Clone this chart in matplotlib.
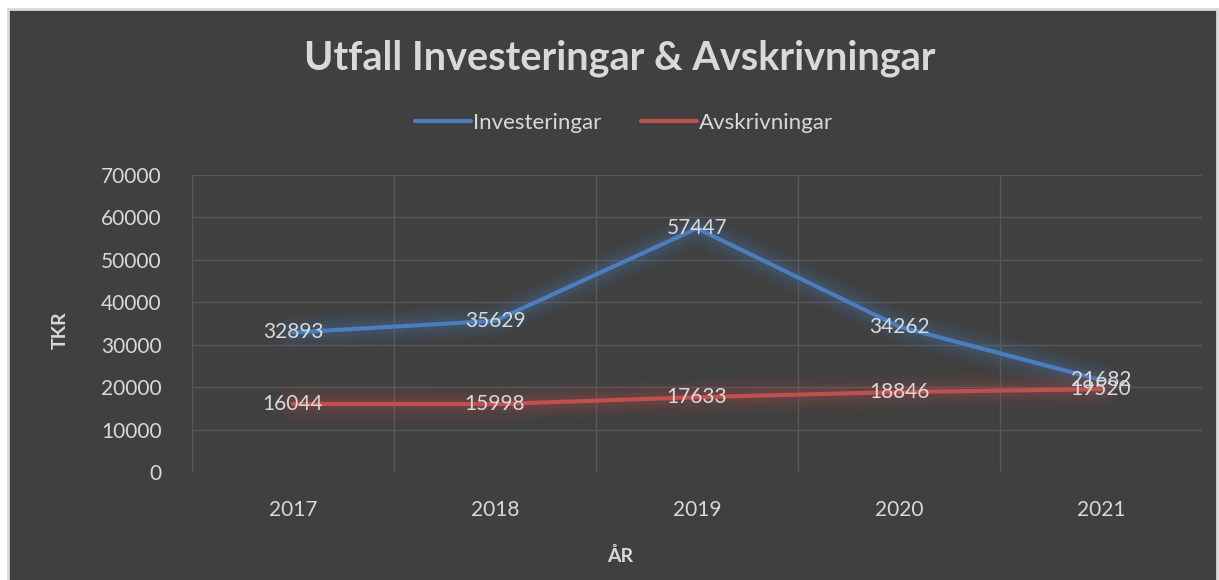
import matplotlib.pyplot as plt
import matplotlib.patheffects as pe
from matplotlib.patches import Rectangle

plt.rcParams['font.family'] = ['Lato', 'DejaVu Sans']

# Data
years = ['2017', '2018', '2019', '2020', '2021']
investeringar = [32893, 35629, 57447, 34262, 21682]
avskrivningar = [16044, 15998, 17633, 18846, 19520]

bg = '#404040'
txt = '#d9d9d9'
grid_c = '#585858'
blue = '#4a7ebf'
red = '#c0504d'

fig = plt.figure(figsize=(12.19, 5.80), dpi=100, facecolor='white')
# chart area with light border
fig.patches.append(Rectangle((8 / 1219, -0.05), 1209 / 1219, 1.05 - 9 / 580,
                             transform=fig.transFigure, facecolor=bg,
                             edgecolor='#d9d9d9', linewidth=2, zorder=-10))

ax = fig.add_axes([192 / 1219, 1 - 472 / 580, 1010 / 1219, 297 / 580])
ax.set_facecolor(bg)
ax.patch.set_alpha(0)

x = list(range(len(years)))


def glow(color):
    return [pe.Stroke(linewidth=w, foreground=color, alpha=a)
            for w, a in [(26, 0.05), (20, 0.06), (14, 0.08), (9, 0.11)]] + [pe.Normal()]


ax.plot(x, investeringar, color=blue, linewidth=3, solid_capstyle='round',
        label='Investeringar', path_effects=glow(blue), zorder=3)
ax.plot(x, avskrivningar, color=red, linewidth=3, solid_capstyle='round',
        label='Avskrivningar', path_effects=glow(red), zorder=3)

for xi, v in zip(x, investeringar):
    ax.text(xi, v, str(v), color=txt, fontsize=15, ha='center', va='center', zorder=5)
for xi, v in zip(x, avskrivningar):
    ax.text(xi, v, str(v), color=txt, fontsize=15, ha='center', va='center', zorder=5)

ax.set_xlim(-0.5, len(years) - 0.5)
ax.set_ylim(0, 70000)
ax.set_yticks(range(0, 70001, 10000))
ax.set_xticks(x)
ax.set_xticklabels(years)
ax.set_xticks([i - 0.5 for i in range(len(years) + 1)], minor=True)
ax.grid(True, which='major', axis='y', color=grid_c, linewidth=1)
ax.grid(True, which='minor', axis='x', color=grid_c, linewidth=1)
ax.tick_params(which='both', length=0)
ax.tick_params(axis='y', colors=txt, labelsize=15, pad=22)
ax.tick_params(axis='x', colors=txt, labelsize=15, pad=20)
for s in ax.spines.values():
    s.set_visible(False)

fig.text(60 / 1219, 1 - 330 / 580, 'TKR', color=txt, fontsize=14,
         fontweight='bold', rotation=90, ha='center', va='center')
fig.text(620 / 1219, 1 - 556 / 580, 'ÅR', color=txt, fontsize=14,
         fontweight='bold', ha='center', va='center')

fig.text(620 / 1219, 1 - 58 / 580, 'Utfall Investeringar & Avskrivningar',
         color=txt, fontsize=28.5, fontweight='bold', ha='center', va='center')

leg = ax.legend(loc='center', bbox_to_anchor=(624 / 1219, 1 - 123 / 580),
                bbox_transform=fig.transFigure, ncol=2, frameon=False,
                fontsize=16, labelcolor=txt, handlelength=2.5, handletextpad=0.1,
                columnspacing=1.8)
for h in leg.get_lines():
    h.set_path_effects([])
    h.set_linewidth(3)

fig.savefig('out.png', dpi=100, facecolor='white')
